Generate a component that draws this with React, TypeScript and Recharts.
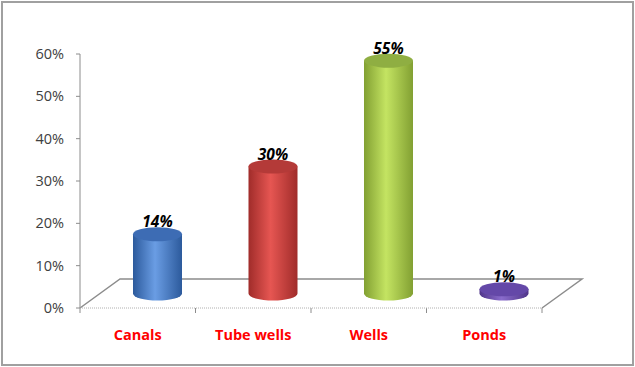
import React from 'react';
import { BarChart, Bar, XAxis, YAxis, LabelList, Customized } from 'recharts';

const categories = ['Canals', 'Tube wells', 'Wells', 'Ponds'];
const shares = [0.14, 0.3, 0.55, 0.01];
const yTicks = [0, 0.1, 0.2, 0.3, 0.4, 0.5, 0.6];

const palette = [
  { dark: '#2c5a9c', light: '#6a9de4', top: '#3d6cb4' },
  { dark: '#a02c2a', light: '#e65652', top: '#b43a38' },
  { dark: '#82a032', light: '#c4e462', top: '#8fae42' },
  { dark: '#50368a', light: '#8a6ccc', top: '#6448a8' },
];

const W = 635;
const H = 367;
const M = { top: 54, right: 93, bottom: 29, left: 0 };
const Y_AXIS_W = 80;
const X_AXIS_H = 30;
const DEPTH_X = 40;
const DEPTH_Y = 29;
const FONT = '"Open Sans", "Liberation Sans", sans-serif';

const rows = categories.map((name, i) => ({ name, value: shares[i], idx: i }));

const plotLeft = M.left + Y_AXIS_W;
const plotRight = W - M.right;
const plotBottom = H - M.bottom - X_AXIS_H;

const Floor = () => {
  const n = categories.length;
  const step = (plotRight - plotLeft) / n;
  const ticks = Array.from({ length: n + 1 }, (_, i) => plotLeft + i * step);
  return (
    <g>
      <polyline
        points={`${plotLeft},${plotBottom} ${plotLeft + DEPTH_X},${plotBottom - DEPTH_Y} ${plotRight + DEPTH_X},${plotBottom - DEPTH_Y} ${plotRight},${plotBottom}`}
        fill="none"
        stroke="#8c8c8c"
        strokeWidth={1.5}
      />
      {ticks.map((tx, i) => (
        <line key={i} x1={tx} y1={plotBottom} x2={tx} y2={plotBottom + 5} stroke="#8c8c8c" strokeWidth={1} />
      ))}
    </g>
  );
};

const Cylinder = (props: any) => {
  const { x, y, width, height, payload } = props;
  const c = palette[payload.idx];
  const rx = width / 2;
  const ry = 7;
  const cx = x + width / 2 + DEPTH_X / 2;
  const top = y - DEPTH_Y / 2;
  const bottom = y + height - DEPTH_Y / 2;
  const x0 = cx - rx;
  const x1 = cx + rx;
  const id = `cyl-grad-${payload.idx}`;
  return (
    <g>
      <defs>
        <linearGradient id={id} x1="0" y1="0" x2="1" y2="0">
          <stop offset="0%" stopColor={c.dark} />
          <stop offset="45%" stopColor={c.light} />
          <stop offset="100%" stopColor={c.dark} />
        </linearGradient>
      </defs>
      <path
        d={`M${x0},${top} L${x0},${bottom} A${rx},${ry} 0 0 0 ${x1},${bottom} L${x1},${top} Z`}
        fill={`url(#${id})`}
      />
      <ellipse cx={cx} cy={top} rx={rx} ry={ry} fill={c.top} />
    </g>
  );
};

const ValueLabel = (props: any) => {
  const { x, y, width, value } = props;
  const cx = x + width / 2 + DEPTH_X / 2;
  const top = y - DEPTH_Y / 2;
  return (
    <text
      x={cx}
      y={top - 7}
      textAnchor="middle"
      fontFamily={FONT}
      fontSize={15.5}
      fontWeight="bold"
      fontStyle="italic"
      fill="#000"
    >
      {`${Math.round(value * 100)}%`}
    </text>
  );
};

const CategoryTick = (props: any) => {
  const { x, y, payload } = props;
  return (
    <text x={x} y={y} dy={24} textAnchor="middle" fontFamily={FONT} fontSize={14.5} fontWeight="bold" fill="#ff0000">
      {payload.value}
    </text>
  );
};

export default function App() {
  return (
    <div style={{ position: 'absolute', left: 0, top: 0, width: W, height: H, background: '#fff' }}>
      <div
        style={{
          position: 'absolute',
          left: 1,
          top: 1,
          width: 633,
          height: 365,
          boxSizing: 'border-box',
          border: '2px solid #a0a0a0',
        }}
      />
      <div style={{ position: 'absolute', left: 0, top: 0 }}>
        <BarChart width={W} height={H} data={rows} margin={M} barSize={49}>
          <Customized component={<Floor />} />
          <XAxis
            dataKey="name"
            height={X_AXIS_H}
            axisLine={{ stroke: '#b0b0b0', strokeDasharray: '1 1' }}
            tickLine={false}
            tick={<CategoryTick />}
            interval={0}
          />
          <YAxis
            width={Y_AXIS_W}
            domain={[0, 0.6]}
            ticks={yTicks}
            tickFormatter={(v: number) => `${Math.round(v * 100)}%`}
            axisLine={{ stroke: '#8c8c8c' }}
            tickLine={{ stroke: '#8c8c8c' }}
            tickSize={4}
            tickMargin={12}
            tick={{ fontFamily: FONT, fontSize: 14.5, fill: '#404040' }}
          />
          <Bar dataKey="value" shape={<Cylinder />} isAnimationActive={false}>
            <LabelList dataKey="value" content={<ValueLabel />} />
          </Bar>
        </BarChart>
      </div>
    </div>
  );
}
